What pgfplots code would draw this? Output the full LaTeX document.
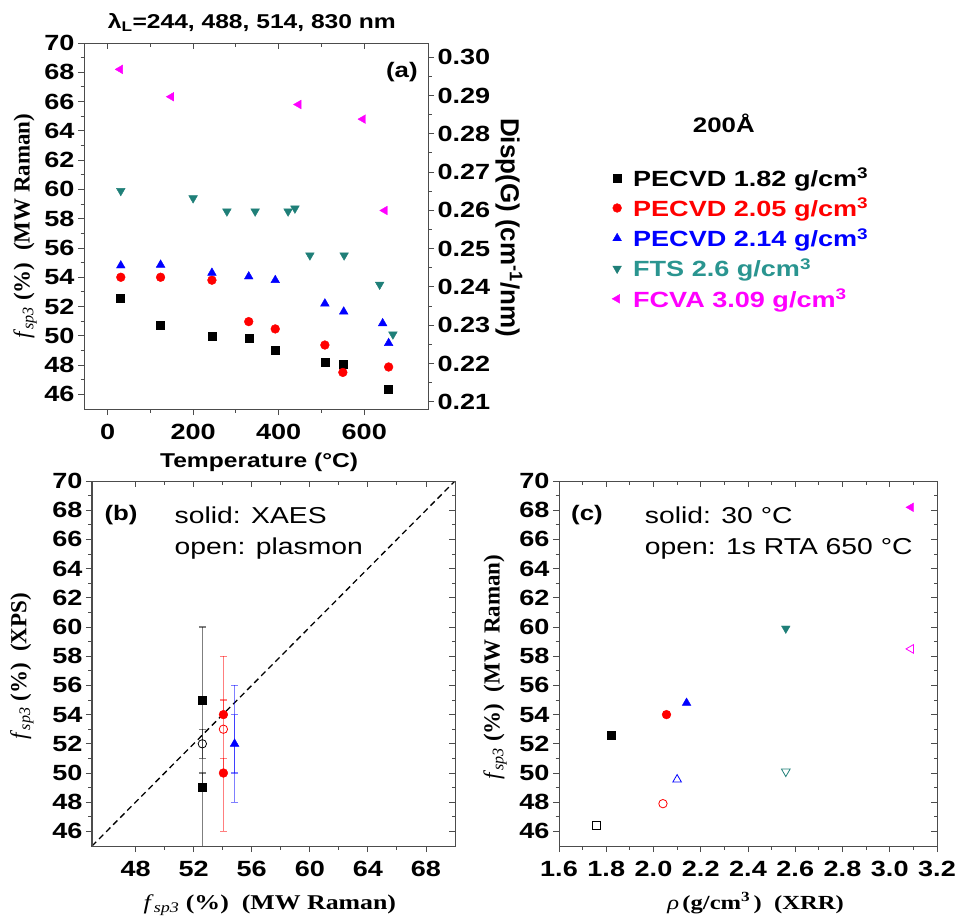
\documentclass[border=0pt]{standalone}
\usepackage{fontspec}
\setmainfont{Liberation Sans}[FakeStretch=1.23]
\newfontfamily\sansup{Liberation Sans}
\newfontfamily\serifup{Liberation Serif}
\newfontfamily\serifx{Liberation Serif}[FakeStretch=1.23]
\usepackage{pgfplots}
\pgfplotsset{compat=1.18}
\definecolor{ftsteal}{HTML}{1F7F78}
\definecolor{ftstext}{HTML}{2A9590}
\definecolor{fcva}{HTML}{FF00FF}
\newcommand{\fsp}{\textit{f}\textsubscript{\textit{sp3}}}

\pgfplotsset{
  frame/.style={scale only axis, clip mode=individual,
    axis line style={line width=1pt, black!70},
    tick style={black!70, line width=0.9pt},
    major tick length=6pt, minor tick length=3.5pt, minor tick num=1,
    tick label style={font=\bfseries\fontsize{22}{22}\selectfont},
    /pgf/number format/assume math mode=true},
  panel/.style={frame, tick align=outside, xtick pos=bottom, ytick pos=left,
    xticklabel style={yshift=-6pt}},
  mirror/.style={frame, tick align=inside, xtick pos=top, ytick pos=right,
    xticklabels={}, yticklabels={}},
  sq/.style={only marks, mark=square*, mark size=4pt, black},
  ci/.style={only marks, mark=*, mark size=4.4pt, red},
  tu/.style={only marks, mark=triangle*, mark size=5pt, blue},
  td/.style={only marks, mark=triangle*, mark size=5pt, ftsteal, mark options={rotate=180}},
  tl/.style={only marks, mark=triangle*, mark size=5pt, fcva, mark options={rotate=90}},
  ebar/.style={draw=none, mark=none, error bars/.cd, y dir=both, y explicit,
    error mark=-, error mark options={rotate=90, mark size=3.5pt, line width=1.2pt, opacity=0.5, #1},
    error bar style={line width=1.3pt, opacity=0.5, #1}},
}

\begin{document}
\begin{tikzpicture}[x=1pt,y=1pt]
\useasboundingbox (0pt,0pt) rectangle (958pt,-916pt);

% ---------- panel (a) ----------
\begin{axis}[panel, at={(84pt,-409pt)}, anchor=south west, width=344pt, height=366pt,
  xmin=-55, xmax=749, ymin=45, ymax=70,
  xtick={0,200,400,600}, ytick={46,48,...,70},
  xlabel={\bfseries\fontsize{20}{20}\selectfont Temperature (°C)},
  xlabel style={at={(axis description cs:0.509,-0.145)}, anchor=center},
  ylabel={\serifup\fontsize{23}{23}\selectfont\fsp\ {\bfseries(\%)\ \ (MW Raman)}},
  ylabel style={at={(axis description cs:-0.1715,0.50)}, anchor=center},
  legend cell align=left,
  legend style={at={(axis description cs:1.526,0.665)}, anchor=north west,
    draw=none, fill=none, inner sep=0pt, row sep=6.5pt,
    font=\bfseries\fontsize{22}{22}\selectfont},
  legend image code/.code={\path[draw=none,fill=none] (0pt,-1pt) rectangle (22pt,1pt);
    \draw[mark repeat=2,mark phase=2,#1] plot coordinates {(0pt,0pt) (8pt,0pt) (16pt,0pt)};},
]
\addplot[sq] coordinates {(29.5,52.6) (124,50.7) (244,49.95) (330,49.87) (392,49.03) (508,48.23) (550,48.05) (657,46.35)};
\addlegendentry{\textcolor{black}{PECVD 1.82 g/cm\textsuperscript{3}}}
\addplot[ci] coordinates {(31,54.0) (124,54.0) (244,53.8) (330,50.97) (392,50.47) (508,49.37) (550,47.5) (657,47.87)};
\addlegendentry{\textcolor{red}{PECVD 2.05 g/cm\textsuperscript{3}}}
\addplot[tu] coordinates {(31,54.8) (124,54.85) (244,54.3) (330,54.05) (392,53.8) (508,52.2) (552,51.65) (643,50.85) (657,49.5)};
\addlegendentry{\textcolor{blue}{PECVD 2.14 g/cm\textsuperscript{3}}}
\addplot[td] coordinates {(31,59.9) (200,59.4) (279,58.5) (345,58.5) (422,58.5) (438,58.7) (473,55.5) (553,55.5) (636,53.5) (667,50.1)};
\addlegendentry{\textcolor{ftstext}{FTS 2.6 g/cm\textsuperscript{3}}}
\addplot[tl] coordinates {(29.5,68.2) (149,66.33) (446.5,65.8) (597,64.8) (648,58.56)};
\addlegendentry{\textcolor{fcva}{FCVA 3.09 g/cm\textsuperscript{3}}}
\node[font=\bfseries\fontsize{20}{20}\selectfont] at (axis description cs:0.488,1.057) {λ\textsubscript{L}=244, 488, 514, 830 nm};
\node[font=\bfseries\fontsize{21}{21}\selectfont] at (axis description cs:0.924,0.921) {(a)};
\node[font=\bfseries\fontsize{21}{21}\selectfont] at (axis description cs:1.86,0.781) {200Å};
\end{axis}
% top ticks of (a)
\begin{axis}[mirror, at={(84pt,-409pt)}, anchor=south west, width=344pt, height=366pt,
  xmin=-55, xmax=749, ymin=45, ymax=70, xtick={0,200,400,600}, ytick=\empty]
\end{axis}
% right axis of (a)
\begin{axis}[frame, at={(84pt,-409pt)}, anchor=south west, width=344pt, height=366pt,
  tick align=outside, xtick=\empty, ytick pos=right, yticklabel pos=right,
  xmin=-55, xmax=749, ymin=0.2081, ymax=0.3037,
  ytick={0.21,0.22,0.23,0.24,0.25,0.26,0.27,0.28,0.29,0.30},
  yticklabel style={/pgf/number format/.cd, fixed, fixed zerofill, precision=2},
  ylabel={\sansup\bfseries\fontsize{26}{26}\selectfont Disp(G) (cm\textsuperscript{-1}/nm)},
  ylabel style={at={(axis description cs:1.235,0.496)}, anchor=center, rotate=180},
]
\end{axis}

% ---------- panel (b) ----------
\begin{axis}[panel, at={(92pt,-846pt)}, anchor=south west, width=363pt, height=365pt,
  xmin=45, xmax=70, ymin=45, ymax=70,
  xtick={48,52,...,68}, ytick={46,48,...,70},
  xlabel={\serifx\fontsize{21}{21}\selectfont\fsp\ {\bfseries(\%)\ \ (MW Raman)}},
  xlabel style={at={(axis description cs:0.49,-0.162)}, anchor=center},
  ylabel={\serifup\fontsize{23}{23}\selectfont\fsp\ {\bfseries(\%)\ \ (XPS)}},
  ylabel style={at={(axis description cs:-0.193,0.493)}, anchor=center},
]
\addplot[black, dashed, line width=1.3pt, dash pattern=on 6pt off 4pt] coordinates {(45,45) (70,70)};
\addplot[ebar=black] coordinates {(52.6,52) +- (0,8) (52.6,52) +- (0,1)};
\addplot[ebar=black] coordinates {(52.6,49) += (0,1) -= (0,0)};
\addplot[ebar=red] coordinates {(54.05,53) += (0,5) -= (0,7) (54.05,54) += (0,1) -= (0,0) (54.05,50) += (0,1) -= (0,0)};
\addplot[ebar=blue] coordinates {(54.82,52) +- (0,4) (54.82,52) +- (0,2)};
\addplot[sq] coordinates {(52.6,55) (52.6,49)};
\addplot[only marks, mark=o, mark size=4.2pt, black, line width=0.8pt] coordinates {(52.6,52)};
\addplot[ci] coordinates {(54.05,54) (54.05,50)};
\addplot[only marks, mark=o, mark size=4.2pt, red, line width=0.8pt] coordinates {(54.05,53)};
\addplot[tu] coordinates {(54.82,52)};
\node[font=\bfseries\fontsize{21}{21}\selectfont] at (axis description cs:0.08,0.907) {(b)};
\node[anchor=west, font=\fontsize{23}{23}\selectfont] at (axis description cs:0.218,0.907) {solid: XAES};
\node[anchor=west, font=\fontsize{23}{23}\selectfont] at (axis description cs:0.218,0.814) {open: plasmon};
\end{axis}
\begin{axis}[mirror, at={(92pt,-846pt)}, anchor=south west, width=363pt, height=365pt,
  xmin=45, xmax=70, ymin=45, ymax=70, xtick={48,52,...,68}, ytick={46,48,...,70}]
\end{axis}

% ---------- panel (c) ----------
\begin{axis}[panel, at={(559pt,-846pt)}, anchor=south west, width=378pt, height=365pt,
  xmin=1.6, xmax=3.2, ymin=45, ymax=70,
  xtick={1.6,1.8,2.0,2.2,2.4,2.6,2.8,3.0,3.2}, ytick={46,48,...,70},
  xticklabel style={/pgf/number format/.cd, fixed, fixed zerofill, precision=1},
  xlabel={\serifx\fontsize{20}{20}\selectfont\textit{ρ}\,{\bfseries(g/cm\textsuperscript{3}\,)\ \ (XRR)}},
  xlabel style={at={(axis description cs:0.52,-0.156)}, anchor=center},
  ylabel={\serifup\fontsize{23}{23}\selectfont\fsp\ {\bfseries(\%)\ \ (MW Raman)}},
  ylabel style={at={(axis description cs:-0.169,0.49)}, anchor=center},
]
\addplot[sq] coordinates {(1.82,52.6)};
\addplot[ci] coordinates {(2.055,54.0)};
\addplot[tu] coordinates {(2.14,54.8)};
\addplot[td] coordinates {(2.56,59.9)};
\addplot[tl] coordinates {(3.09,68.2)};
\addplot[only marks, mark=square, mark size=4pt, black, line width=0.8pt] coordinates {(1.76,46.4)};
\addplot[only marks, mark=o, mark size=4.2pt, red, line width=0.8pt] coordinates {(2.04,47.9)};
\addplot[only marks, mark=triangle, mark size=5pt, blue, line width=0.8pt] coordinates {(2.10,49.55)};
\addplot[only marks, mark=triangle, mark size=5pt, ftsteal, line width=0.8pt, mark options={rotate=180}] coordinates {(2.56,50.1)};
\addplot[only marks, mark=triangle, mark size=5pt, fcva, line width=0.8pt, mark options={rotate=90}] coordinates {(3.09,58.5)};
\node[font=\bfseries\fontsize{21}{21}\selectfont] at (axis description cs:0.074,0.907) {(c)};
\node[anchor=west, font=\fontsize{23}{23}\selectfont] at (axis description cs:0.218,0.907) {solid: 30 °C};
\node[anchor=west, font=\fontsize{23}{23}\selectfont] at (axis description cs:0.218,0.814) {open: 1s RTA 650 °C};
\end{axis}
\begin{axis}[mirror, at={(559pt,-846pt)}, anchor=south west, width=378pt, height=365pt,
  xmin=1.6, xmax=3.2, ymin=45, ymax=70,
  xtick={1.6,1.8,2.0,2.2,2.4,2.6,2.8,3.0,3.2}, ytick={46,48,...,70}]
\end{axis}
\end{tikzpicture}
\end{document}
